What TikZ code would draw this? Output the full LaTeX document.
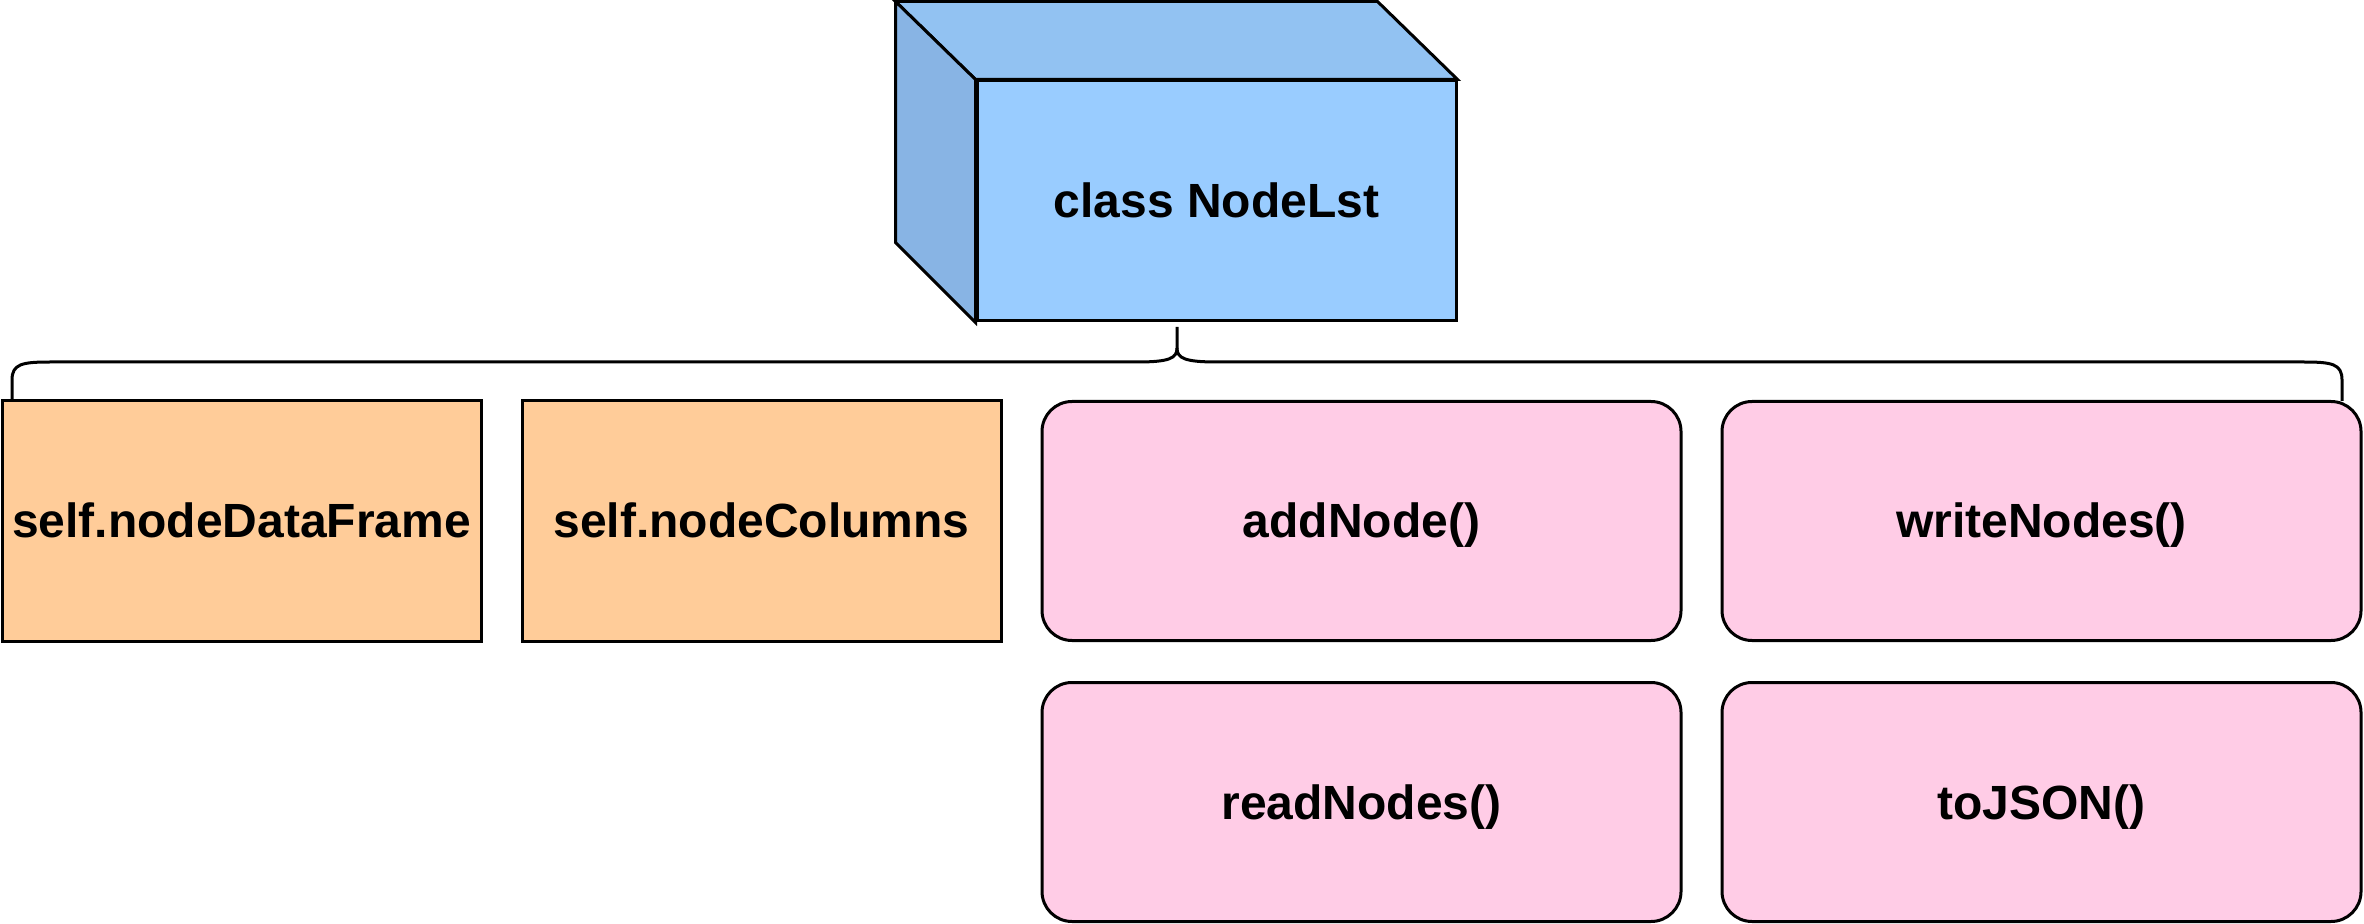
\documentclass[tikz,border=0pt]{standalone}
\usepackage{fontspec}
\setmainfont{Liberation Sans}
\usetikzlibrary{calc}
\definecolor{cfront}{HTML}{99CCFF}
\definecolor{ctop}{HTML}{92C2F2}
\definecolor{cside}{HTML}{88B4E4}
\definecolor{corange}{HTML}{FFCC99}
\definecolor{cpink}{HTML}{FFCCE6}
\tikzset{
  base/.style={draw=black, line width=1.5pt, font=\fontsize{24}{28.8}\selectfont\bfseries, inner sep=0pt, align=center, text height=17pt, text depth=0pt},
  obox/.style={base, fill=corange, rectangle, minimum width=239.5pt, minimum height=120pt},
  pbox/.style={base, fill=cpink, rectangle, rounded corners=15pt, minimum width=319.5pt, minimum height=119.5pt},
  face/.style={draw=black, line width=1.5pt, line join=miter},
  bracestyle/.style={draw=black, line width=1.5pt},
}
\begin{document}
\begin{tikzpicture}[x=0.5pt, y=-0.5pt]
\useasboundingbox (0,0) rectangle (2364,924);
% cube
\node[base, fill=cfront, minimum width=239.5pt, minimum height=120pt] (front) at (1216.5,201) {class NodeLst};
\draw[face, fill=ctop] (front.north west) -- ++(-80,-78) -- ($(front.north east)+(-80,-78)$) -- (front.north east) -- cycle;
\draw[face, fill=cside] (front.north west) -- ++(-80,-78) -- ($(front.south west)+(-80,-80)$) -- (front.south west) -- cycle;
% boxes
\node[obox] (o1) at (241.5,521) {self.nodeDataFrame};
\node[obox] (o2) at (761.5,521) {self.nodeColumns};
\node[pbox] (p1) at (1361.5,521) {addNode()};
\node[pbox] (p2) at (2041.5,521) {writeNodes()};
\node[pbox] (p3) at (1361.5,802) {readNodes()};
\node[pbox] (p4) at (2041.5,802) {toJSON()};
% brace
\coordinate (bl) at (12,401);
\coordinate (br) at (2342,401);
\coordinate (tip) at (1177,327);
\draw[bracestyle] (bl) -- (12,380) .. controls (12,364) and (22,362) .. (50,362)
  -- (1137,362) .. controls (1170,362) and (1177,358) .. (1177,348) -- (tip);
\draw[bracestyle] (br) -- (2342,380) .. controls (2342,364) and (2332,362) .. (2304,362)
  -- (1217,362) .. controls (1184,362) and (1177,358) .. (1177,348);
\end{tikzpicture}
\end{document}
